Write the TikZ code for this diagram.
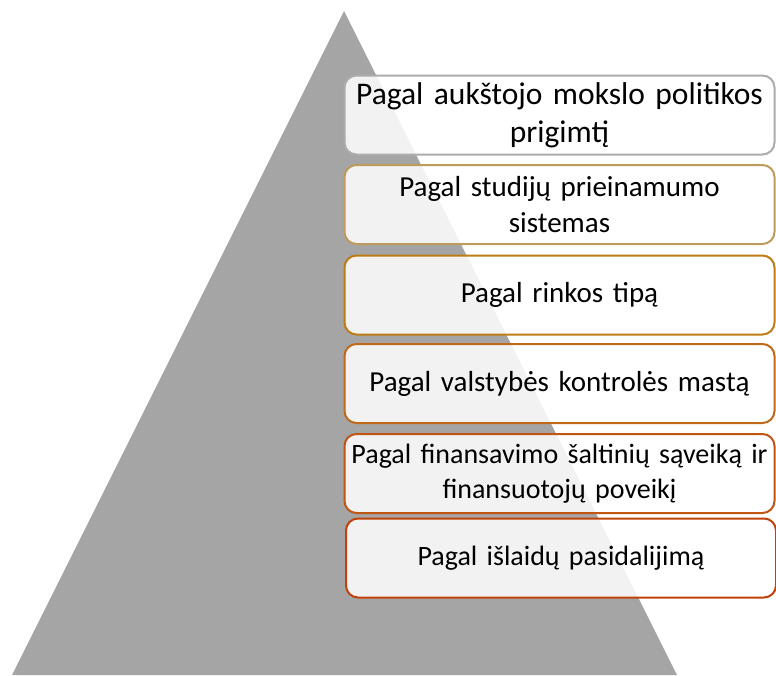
\documentclass[tikz,border=0pt]{standalone}
\usepackage{fontspec}
\setmainfont{Carlito}
\definecolor{pyramid}{RGB}{165,165,165}
\definecolor{edgeA}{RGB}{172,172,172}
\definecolor{edgeB}{RGB}{190,155,90}
\definecolor{edgeC}{RGB}{190,125,20}
\definecolor{edgeD}{RGB}{192,105,25}
\definecolor{edgeE}{RGB}{192,85,20}
\definecolor{edgeF}{RGB}{192,65,10}
\tikzset{
  tier/.style={draw=#1, line width=2pt, rounded corners=12pt, fill=white,
    fill opacity=0.86, text opacity=1, minimum width=430pt, minimum height=79pt,
    text width=426pt, align=center, inner sep=0pt},
  big/.style={font=\fontsize{31.5}{38}\selectfont},
  mid/.style={font=\fontsize{29}{35.5}\selectfont},
  small/.style={font=\fontsize{28}{34.5}\selectfont}
}
\begin{document}
\begin{tikzpicture}[x=1pt, y=-1pt]
          \useasboundingbox (0,0) rectangle (776,675);
          \fill[pyramid] (344,11) -- (677,675) -- (12,675) -- cycle; % pyramid
          \node[tier=edgeA, big] (politika) at (559.5,115) {Pagal aukštojo mokslo politikos\\prigimtį};
          \node[tier=edgeB, mid] (prieinamumas) at (559.5,204.5) {Pagal studijų prieinamumo\\sistemas};
          \node[tier=edgeC, mid] (rinka) at (559.5,295) {Pagal rinkos tipą};
          \node[tier=edgeD, mid] (kontrole) at (559.5,383.5) {Pagal valstybės kontrolės mastą};
          \node[tier=edgeE, small] (finansai) at (559.5,473.5) {Pagal finansavimo šaltinių sąveiką ir\\finansuotojų poveikį};
          \node[tier=edgeF, small] (islaidos) at (561,558) {Pagal išlaidų pasidalijimą};
        \end{tikzpicture}
\end{document}
